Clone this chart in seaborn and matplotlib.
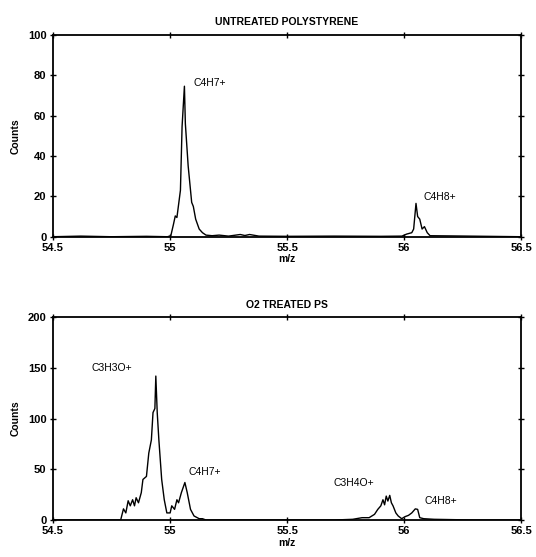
import matplotlib
matplotlib.use("Agg")
import matplotlib.pyplot as plt
import seaborn as sns
import pandas as pd

# ---- data: untreated polystyrene ----
untreated_mz = [54.5, 54.62, 54.75, 54.9, 54.99, 55.004, 55.015, 55.023, 55.03, 55.045, 55.052,
                55.062, 55.066, 55.078, 55.093, 55.10, 55.11, 55.125, 55.139, 55.154, 55.18,
                55.21, 55.25, 55.30, 55.32, 55.34, 55.38, 55.5, 55.7, 55.9, 55.99, 56.01, 56.032,
                56.04, 56.05, 56.057, 56.066, 56.076, 56.086, 56.098, 56.11, 56.2, 56.35, 56.5]
untreated_counts = [0, 0.3, 0, 0.2, 0, 0.5, 6, 10.3, 9.5, 23, 54.5,
                    74.5, 56, 35, 17, 15, 8.7, 3.8, 2, 0.8, 0.5,
                    0.8, 0.3, 1.1, 0.6, 1.1, 0.3, 0.2, 0.3, 0.2, 0.3, 1.3, 2,
                    3.8, 16.5, 10, 8.7, 3.8, 5, 2, 0.5, 0.4, 0.2, 0]

# ---- data: O2 treated PS ----
treated_mz = [54.5, 54.65, 54.79, 54.802, 54.812, 54.822, 54.831, 54.841, 54.849, 54.856, 54.866,
              54.878, 54.885, 54.90, 54.91, 54.921, 54.928, 54.936, 54.94, 54.946, 54.953,
              54.965, 54.976, 54.987, 55.001, 55.008, 55.02, 55.03, 55.037, 55.049, 55.064,
              55.074, 55.088, 55.103, 55.125, 55.139, 55.154, 55.3, 55.5, 55.7, 55.78, 55.82,
              55.85, 55.873, 55.887, 55.90, 55.909, 55.916, 55.923, 55.93, 55.938, 55.945,
              55.952, 55.964, 55.974, 55.989, 56.003, 56.018, 56.032, 56.047, 56.057, 56.066,
              56.083, 56.127, 56.3, 56.5]
treated_counts = [0, 0, 0, 11, 7, 19, 14, 20, 14, 22, 17,
                  27, 40, 43, 66, 79, 106, 110, 142, 106, 79,
                  40, 20, 7, 7, 14, 10.5, 20, 17, 27, 37,
                  27, 10.5, 4, 1.3, 1.3, 0, 0, 0, 0, 0.7, 2.3,
                  2.3, 5.6, 10.5, 14, 20, 15, 23.6, 18.7, 24.3, 17,
                  14, 7, 4, 1.3, 3.3, 4.6, 7, 11, 10.5, 2.3,
                  1.3, 0.7, 0, 0]

x_ticks = [54.5, 55, 55.5, 56, 56.5]
x_tick_labels = ["54.5", "55", "55.5", "56", "56.5"]
top_yticks = [0, 20, 40, 60, 80, 100]
bottom_yticks = [0, 50, 100, 150, 200]

top_labels = ["C4H7+", "C4H8+"]
top_label_x = [55.10, 56.08]
top_label_y = [76, 19.5]
bottom_labels = ["C3H3O+", "C4H7+", "C3H4O+", "C4H8+"]
bottom_label_x = [54.665, 55.08, 55.70, 56.088]
bottom_label_y = [150, 47, 36.5, 18.5]

sns.set_style("ticks")
plt.rcParams["font.family"] = ["Liberation Sans", "DejaVu Sans"]
plt.rcParams["text.color"] = "black"
plt.rcParams["axes.labelcolor"] = "black"

fig = plt.figure(figsize=(5.36, 5.57), dpi=100)
ax1 = fig.add_axes([0.0983, 0.575, 0.8746, 0.3627])
ax2 = fig.add_axes([0.0983, 0.0664, 0.8746, 0.364])

df1 = pd.DataFrame({"mz": untreated_mz, "counts": untreated_counts})
df2 = pd.DataFrame({"mz": treated_mz, "counts": treated_counts})

sns.lineplot(data=df1, x="mz", y="counts", ax=ax1, color="black", lw=1.0,
             estimator=None, sort=False)
sns.lineplot(data=df2, x="mz", y="counts", ax=ax2, color="black", lw=1.0,
             estimator=None, sort=False)

def style(ax, yticks, ymax, title, labels, lx, ly):
    ax.set_xlim(54.5, 56.5)
    ax.set_ylim(0, ymax)
    ax.set_xticks(x_ticks)
    ax.set_xticklabels(x_tick_labels, fontsize=8, fontweight="bold")
    ax.set_yticks(yticks)
    ax.set_yticklabels([str(t) for t in yticks], fontsize=8, fontweight="bold")
    ax.tick_params(direction="inout", length=5, width=1.0, top=True, right=True,
                   pad=2, colors="black")
    for s in ax.spines.values():
        s.set_visible(True)
        s.set_linewidth(1.3)
        s.set_color("black")
    ax.set_xlabel("m/z", fontsize=7.5, fontweight="bold", labelpad=1, color="black")
    ax.set_ylabel("Counts", fontsize=7.5, fontweight="bold", labelpad=5, color="black")
    ax.set_title(title, fontsize=7.5, fontweight="bold", pad=7, color="black")
    for t, x, y in zip(labels, lx, ly):
        ax.text(x, y, t, fontsize=7.5, va="center", ha="left", color="black")

style(ax1, top_yticks, 100, "UNTREATED POLYSTYRENE", top_labels, top_label_x, top_label_y)
style(ax2, bottom_yticks, 200, "O2 TREATED PS", bottom_labels, bottom_label_x, bottom_label_y)

fig.savefig("out.png", dpi=100)
